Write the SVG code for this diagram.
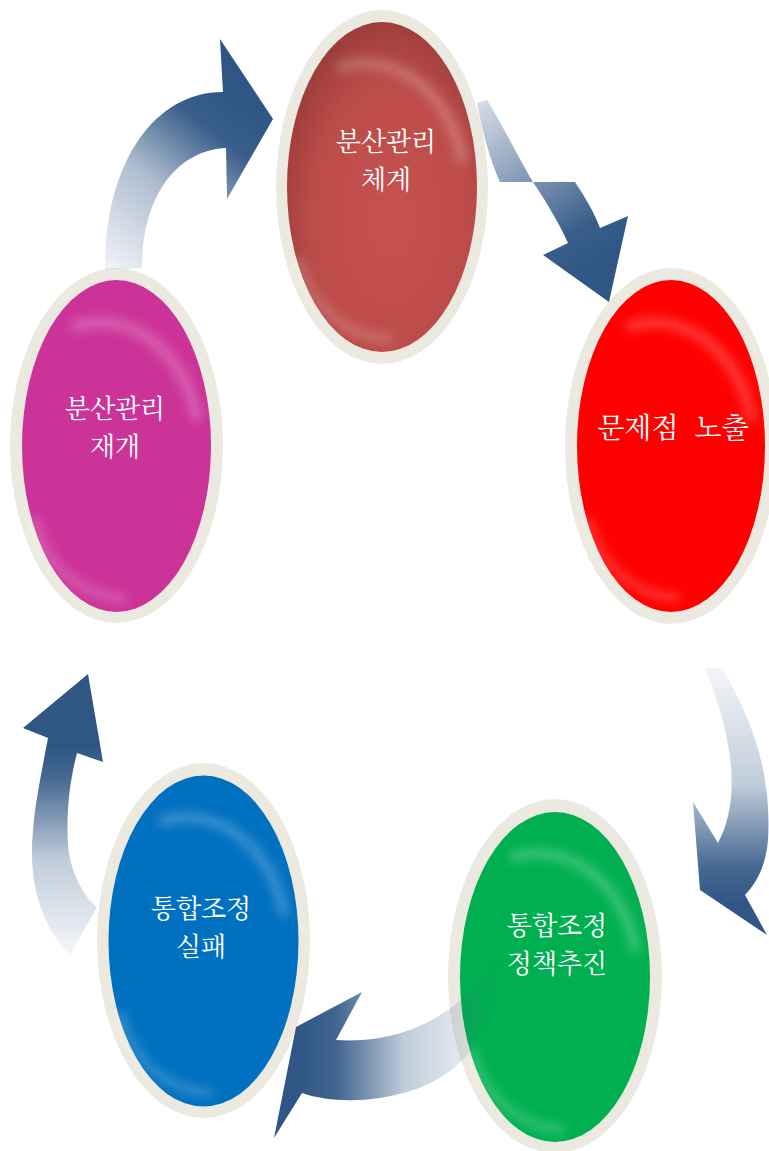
<svg xmlns="http://www.w3.org/2000/svg" xmlns:xlink="http://www.w3.org/1999/xlink" width="769" height="1151" viewBox="0 0 769 1151">
  <style>
    .rim { fill: #ECEAE0; }
    .label { font-family: "Noto Serif CJK KR", "Noto Sans CJK KR", serif; font-size: 26px; fill: #FFFFFF; text-anchor: middle; }
    .one { font-size: 28px; }
    .hl { fill: none; stroke: #FFFFFF; stroke-linecap: round; filter: url(#soft); }
  </style>
  <defs>
    <filter id="soft" x="-30%" y="-30%" width="160%" height="160%">
      <feGaussianBlur stdDeviation="5"/>
    </filter>
    <radialGradient id="brownShade" cx="0.55" cy="0.6" r="0.6">
      <stop offset="0" stop-color="#C65250"/>
      <stop offset="0.7" stop-color="#BC4C49"/>
      <stop offset="1" stop-color="#9E3E3C"/>
    </radialGradient>
    <g id="hilite">
      <path class="hl" d="M -40,-120 C 10,-135 65,-100 80,-30" stroke-width="12" stroke-opacity="0.2"/>
      <path class="hl" d="M -82,75 C -72,118 -40,148 5,152" stroke-width="10" stroke-opacity="0.18"/>
    </g>
    <linearGradient id="g1" gradientUnits="userSpaceOnUse" x1="110" y1="265" x2="240" y2="100">
      <stop offset="0" stop-color="#2F5685" stop-opacity="0.08"/>
      <stop offset="0.45" stop-color="#2F5685" stop-opacity="0.4"/>
      <stop offset="0.8" stop-color="#2F5685" stop-opacity="0.95"/>
      <stop offset="1" stop-color="#2F5685" stop-opacity="1"/>
    </linearGradient>
    <linearGradient id="g2" gradientUnits="userSpaceOnUse" x1="480" y1="100" x2="590" y2="270">
      <stop offset="0" stop-color="#2F5685" stop-opacity="0.2"/>
      <stop offset="0.45" stop-color="#2F5685" stop-opacity="0.6"/>
      <stop offset="0.8" stop-color="#2F5685" stop-opacity="0.95"/>
      <stop offset="1" stop-color="#2F5685" stop-opacity="1"/>
    </linearGradient>
    <linearGradient id="g3" gradientUnits="userSpaceOnUse" x1="0" y1="665" x2="0" y2="905">
      <stop offset="0" stop-color="#2F5685" stop-opacity="0.05"/>
      <stop offset="0.5" stop-color="#2F5685" stop-opacity="0.3"/>
      <stop offset="0.85" stop-color="#2F5685" stop-opacity="0.9"/>
      <stop offset="1" stop-color="#2F5685" stop-opacity="1"/>
    </linearGradient>
    <linearGradient id="g4" gradientUnits="userSpaceOnUse" x1="490" y1="0" x2="300" y2="0">
      <stop offset="0" stop-color="#2F5685" stop-opacity="0.05"/>
      <stop offset="0.45" stop-color="#2F5685" stop-opacity="0.3"/>
      <stop offset="0.8" stop-color="#2F5685" stop-opacity="0.9"/>
      <stop offset="1" stop-color="#2F5685" stop-opacity="1"/>
    </linearGradient>
    <linearGradient id="g5" gradientUnits="userSpaceOnUse" x1="0" y1="955" x2="0" y2="745">
      <stop offset="0" stop-color="#2F5685" stop-opacity="0.05"/>
      <stop offset="0.45" stop-color="#2F5685" stop-opacity="0.3"/>
      <stop offset="0.85" stop-color="#2F5685" stop-opacity="0.9"/>
      <stop offset="1" stop-color="#2F5685" stop-opacity="1"/>
    </linearGradient>
  </defs>

  <g id="node-bunsan-chegye">
    <ellipse class="rim" cx="382" cy="187" rx="106" ry="177"/>
    <ellipse cx="382" cy="187" rx="95" ry="165" fill="url(#brownShade)"/>
    <use xlink:href="#hilite" href="#hilite" x="382" y="187"/>
    <text class="label" x="386" y="151">분산관리<tspan x="386" dy="38">체계</tspan></text>
  </g>

  <g id="node-munjejeom">
    <ellipse class="rim" cx="671" cy="446" rx="106" ry="178"/>
    <ellipse cx="671" cy="446" rx="94" ry="166" fill="#FF0000"/>
    <use xlink:href="#hilite" href="#hilite" x="671" y="446"/>
    <text class="label one" x="673" y="438">문제점<tspan dx="9"> </tspan>노출</text>
  </g>

  <g id="node-tonghap-chujin">
    <ellipse class="rim" cx="555" cy="976" rx="107" ry="177"/>
    <ellipse cx="555" cy="977" rx="95" ry="165" fill="#00B050"/>
    <use xlink:href="#hilite" href="#hilite" x="555" y="977"/>
    <text class="label" x="557" y="935">통합조정<tspan x="557" dy="38">정책추진</tspan></text>
  </g>

  <g id="node-tonghap-silpae">
    <ellipse class="rim" cx="203.5" cy="940.5" rx="106.5" ry="177.5"/>
    <ellipse cx="203.5" cy="941" rx="95" ry="165.5" fill="#0070C0"/>
    <use xlink:href="#hilite" href="#hilite" x="203.5" y="941"/>
    <text class="label" x="201" y="918">통합조정<tspan x="201" dy="38">실패</tspan></text>
  </g>

  <g id="node-bunsan-jaegae">
    <ellipse class="rim" cx="116.5" cy="445.5" rx="106.5" ry="177.5"/>
    <ellipse cx="116.5" cy="446" rx="94.5" ry="166" fill="#CC3399"/>
    <use xlink:href="#hilite" href="#hilite" x="116.5" y="446"/>
    <text class="label" x="115" y="418">분산관리<tspan x="115" dy="38">재개</tspan></text>
  </g>

  <g id="connectors">
    <path fill="url(#g1)" d="M 105,270 C 104,170 150,92 223,92 L 220,39 L 273,119 L 227,199 L 226,148 C 178,150 142,195 142,268 Z"/>
    <path fill="url(#g2)" d="M 477,103 L 487,100 C 505,130 520,160 533,182 L 575,182 C 585,197 594,212 600,228 L 628,216 L 609,302 L 543,255 L 568,243 C 560,225 547,203 533,182 L 500,182 C 490,160 482,130 477,103 Z"/>
    <path fill="url(#g3)" d="M 705,668 L 722,668 C 750,715 772,770 768,840 C 766,865 757,882 745,895 L 767,935 L 700,890 L 693,802 L 718,843 C 738,805 738,750 705,668 Z"/>
    <path fill="url(#g4)" d="M 500,955 C 470,1000 420,1045 336,1040 L 362,992 L 296,1027 L 274,1138 L 302,1093 C 345,1108 420,1100 457,1065 C 475,1050 485,1030 490,1010 Z"/>
    <path fill="url(#g5)" d="M 70,955 C 40,925 28,880 33,830 C 35,805 40,780 48,738 L 23,728 L 88,674 L 103,762 L 77,753 C 70,780 66,810 68,845 C 70,870 82,895 97,907 Z"/>
  </g>
</svg>
